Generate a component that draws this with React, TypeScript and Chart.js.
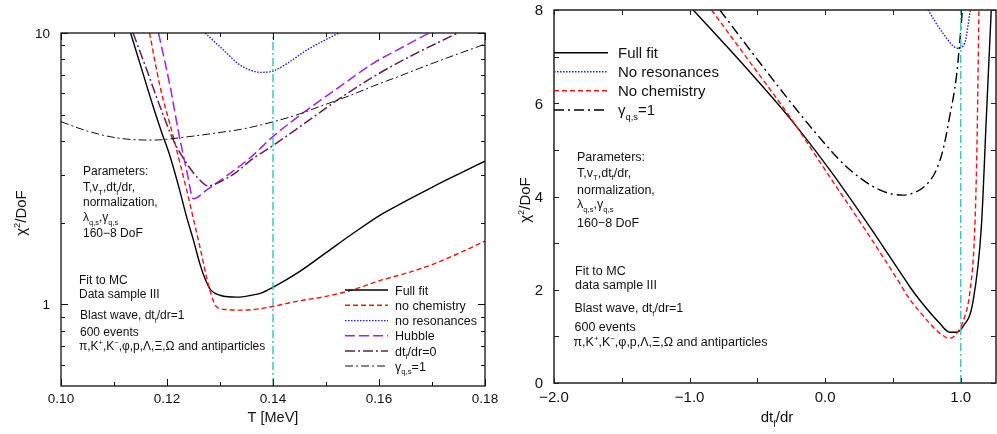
import React, { useEffect, useRef } from "react";
import { Chart, registerables } from "chart.js";
Chart.register(...registerables);

const FONT = '"Liberation Sans", Arial, Helvetica, sans-serif';

// ---------------- Left panel data (T in MeV, chi2/DoF) ----------------
const leftXTicks = [0.1, 0.12, 0.14, 0.16, 0.18];
const leftXMinor = [0.11, 0.13, 0.15, 0.17];
const leftYTicks = [1, 10];
const leftYMinor = [0.6, 0.7, 0.8, 0.9, 2, 3, 4, 5, 6, 7, 8, 9];
const leftMarkT = 0.14;

const fullT = [0.113, 0.115, 0.1174, 0.119, 0.1206, 0.1222, 0.1237, 0.125, 0.1262, 0.1272, 0.1281, 0.129, 0.13, 0.1315, 0.1332, 0.1357, 0.138, 0.14, 0.145, 0.15, 0.155, 0.16, 0.165, 0.17, 0.175, 0.18];
const fullChi = [10.2, 7.6, 5.35, 4.3, 3.5, 2.72, 2.1, 1.72, 1.41, 1.24, 1.14, 1.1, 1.08, 1.066, 1.063, 1.078, 1.105, 1.155, 1.32, 1.55, 1.82, 2.12, 2.4, 2.7, 3.02, 3.37];

const noChemT = [0.1167, 0.1187, 0.1212, 0.1237, 0.1262, 0.1281, 0.1294, 0.1313, 0.134, 0.137, 0.14, 0.145, 0.15, 0.155, 0.16, 0.165, 0.17, 0.175, 0.18];
const noChemChi = [10, 6.34, 4.14, 2.64, 1.63, 1.126, 0.977, 0.956, 0.952, 0.96, 0.983, 1.03, 1.07, 1.13, 1.22, 1.3, 1.4, 1.54, 1.71];

const noResT = [0.1272, 0.13, 0.1338, 0.1357, 0.1376, 0.1401, 0.143, 0.1464, 0.1533];
const noResChi = [10, 8.9, 7.62, 7.3, 7.16, 7.25, 7.8, 8.66, 10.2];

const hubbleT = [0.1184, 0.1206, 0.1221, 0.1237, 0.125, 0.1275, 0.1319, 0.1357, 0.1401, 0.1464, 0.1526, 0.1589, 0.1652, 0.1699];
const hubbleChi = [10, 6.34, 4.39, 3.12, 2.45, 2.64, 3.04, 3.47, 4.17, 5.2, 6.34, 7.73, 9.03, 10.1];

const dtdr0T = [0.1136, 0.1162, 0.1187, 0.1212, 0.1237, 0.1262, 0.1278, 0.13, 0.1332, 0.136, 0.1401, 0.1464, 0.1526, 0.1589, 0.1652, 0.1747];
const dtdr0Chi = [10, 7.3, 5.35, 4.03, 3.31, 2.87, 2.73, 2.83, 3.08, 3.42, 3.86, 4.71, 5.74, 6.89, 8.07, 9.97];

const gammaT = [0.1, 0.105, 0.1111, 0.1174, 0.1237, 0.13, 0.1338, 0.1401, 0.145, 0.1495, 0.1545, 0.1589, 0.164, 0.1684, 0.174, 0.18];
const gammaChi = [4.71, 4.35, 4.09, 4.03, 4.14, 4.3, 4.41, 4.71, 5.03, 5.42, 5.88, 6.37, 6.95, 7.51, 8.25, 9.1];

// ---------------- Right panel data (dt_f/dr, chi2/DoF) ----------------
const rightXTicks = [-2, -1, 0, 1];
const rightXMinor = [-1.5, -0.5, 0.5];
const rightYTicks = [0, 2, 4, 6, 8];
const rightYMinor = [1, 3, 5, 7];
const rightMarkX = 1.0;

const rFullX = [-0.973, -0.58, -0.261, 0.034, 0.329, 0.55, 0.623, 0.697, 0.845, 0.918, 0.968, 1.016, 1.09, 1.152, 1.189, 1.225];
const rFullChi = [8, 6.75, 5.68, 4.57, 3.35, 2.39, 2.07, 1.78, 1.28, 1.09, 1.09, 1.21, 1.74, 3.35, 5.71, 8];

const rNoChemX = [-0.838, -0.58, -0.261, 0.034, 0.329, 0.55, 0.611, 0.697, 0.845, 0.918, 0.979, 1.029, 1.066, 1.102, 1.119, 1.134];
const rNoChemChi = [8, 6.98, 5.71, 4.42, 3.14, 2.14, 1.85, 1.53, 1.07, 0.96, 1.1, 1.42, 1.92, 3.21, 5.0, 8];

const rNoResX = [0.758, 0.869, 0.979, 1.029, 1.071];
const rNoResChi = [8, 7.5, 7.18, 7.29, 8];

const rGammaX = [-0.777, -0.458, -0.089, 0.157, 0.402, 0.574, 0.648, 0.746, 0.82, 0.869, 0.918, 0.968, 0.992, 1.012];
const rGammaChi = [8, 6.78, 5.43, 4.64, 4.14, 4.03, 4.07, 4.25, 4.57, 5.0, 5.71, 6.57, 7.29, 8];

// ---------------- helpers ----------------
type Seg = { t: string; k: "n" | "sub" | "sup" };
function parseRich(s: string): Seg[] {
  const out: Seg[] = [];
  const re = /([_^])\{([^}]*)\}/g;
  let last = 0;
  let m: RegExpExecArray | null;
  while ((m = re.exec(s))) {
    if (m.index > last) out.push({ t: s.slice(last, m.index), k: "n" });
    out.push({ t: m[2], k: m[1] === "_" ? "sub" : "sup" });
    last = m.index + m[0].length;
  }
  if (last < s.length) out.push({ t: s.slice(last), k: "n" });
  return out;
}

function drawRich(ctx: CanvasRenderingContext2D, s: string, x: number, y: number, size: number, align: "left" | "center" | "right" = "left", color = "#111") {
  const segs = parseRich(s);
  const small = size * 0.62;
  let total = 0;
  const widths: number[] = [];
  for (const g of segs) {
    ctx.font = `${g.k === "n" ? size : small}px ${FONT}`;
    const w = ctx.measureText(g.t).width;
    widths.push(w);
    total += w;
  }
  let cx = align === "left" ? x : align === "center" ? x - total / 2 : x - total;
  const base = y + size * 0.36;
  ctx.fillStyle = color;
  ctx.textAlign = "left";
  ctx.textBaseline = "alphabetic";
  segs.forEach((g, i) => {
    ctx.font = `${g.k === "n" ? size : small}px ${FONT}`;
    const dy = g.k === "sub" ? size * 0.28 : g.k === "sup" ? -size * 0.42 : 0;
    ctx.fillText(g.t, cx, base + dy);
    cx += widths[i];
  });
}

function drawRotated(ctx: CanvasRenderingContext2D, s: string, x: number, y: number, size: number) {
  ctx.save();
  ctx.translate(x, y);
  ctx.rotate(-Math.PI / 2);
  drawRich(ctx, s, 0, 0, size, "center");
  ctx.restore();
}

function drawFrame(chart: any, xMaj: number[], xMin: number[], yMaj: number[], yMin: number[], majLen: number, minLen: number, color: string, lw: number) {
  const { ctx, chartArea: a, scales } = chart;
  const xs = scales.x;
  const ys = scales.y;
  ctx.save();
  ctx.strokeStyle = color;
  ctx.lineWidth = lw;
  ctx.setLineDash([]);
  ctx.strokeRect(a.left, a.top, a.right - a.left, a.bottom - a.top);
  ctx.lineWidth = 1;
  const vt = (v: number, len: number) => {
    const p = Math.round(xs.getPixelForValue(v)) + 0.5;
    ctx.beginPath();
    ctx.moveTo(p, a.bottom);
    ctx.lineTo(p, a.bottom - len);
    ctx.moveTo(p, a.top);
    ctx.lineTo(p, a.top + len);
    ctx.stroke();
  };
  const ht = (v: number, len: number) => {
    const p = Math.round(ys.getPixelForValue(v)) + 0.5;
    ctx.beginPath();
    ctx.moveTo(a.left, p);
    ctx.lineTo(a.left + len, p);
    ctx.moveTo(a.right, p);
    ctx.lineTo(a.right - len, p);
    ctx.stroke();
  };
  xMaj.forEach((v) => vt(v, majLen));
  xMin.forEach((v) => vt(v, minLen));
  yMaj.forEach((v) => ht(v, majLen));
  yMin.forEach((v) => ht(v, minLen));
  ctx.restore();
}

type Style = { label: string; color: string; dash: number[]; width: number };

function drawLegend(ctx: CanvasRenderingContext2D, styles: Style[], x0: number, x1: number, tx: number, ys: number[], size: number) {
  styles.forEach((s, i) => {
    ctx.save();
    ctx.strokeStyle = s.color;
    ctx.lineWidth = s.width;
    ctx.setLineDash(s.dash);
    ctx.beginPath();
    ctx.moveTo(x0, ys[i]);
    ctx.lineTo(x1, ys[i]);
    ctx.stroke();
    ctx.restore();
    drawRich(ctx, s.label, tx, ys[i], size, "left");
  });
}

function series(xs: number[], ys: number[], st: Style) {
  return {
    label: st.label,
    data: xs.map((x, i) => ({ x, y: ys[i] })),
    showLine: true,
    borderColor: st.color,
    borderWidth: st.width,
    borderDash: st.dash,
    pointRadius: 0,
    fill: false,
    cubicInterpolationMode: "monotone" as const,
  };
}

function markerLine(x: number, y0: number, y1: number) {
  return {
    label: "marker",
    data: [{ x, y: y0 }, { x, y: y1 }],
    showLine: true,
    borderColor: "#3fc6c6",
    borderWidth: 1.5,
    borderDash: [8, 3, 2, 3],
    pointRadius: 0,
    fill: false,
    tension: 0,
  };
}

// styles
const leftStyles: Style[] = [
  { label: "Full fit", color: "#000000", dash: [], width: 1.4 },
  { label: "no chemistry", color: "#ff1010", dash: [5, 3], width: 1.4 },
  { label: "no resonances", color: "#1a1aff", dash: [1.5, 1.5], width: 1.4 },
  { label: "Hubble", color: "#a020f0", dash: [10, 4], width: 1.5 },
  { label: "dt_{f}/dr=0", color: "#6e1d50", dash: [10, 3, 2, 3], width: 1.5 },
  { label: "γ_{q,s}=1", color: "#111111", dash: [8, 3, 2, 3], width: 1.0 },
];
const rightStyles: Style[] = [
  { label: "Full fit", color: "#000000", dash: [], width: 1.4 },
  { label: "No resonances", color: "#1a1aff", dash: [1.5, 1.5], width: 1.4 },
  { label: "No chemistry", color: "#ff1010", dash: [5, 3], width: 1.4 },
  { label: "γ_{q,s}=1", color: "#000000", dash: [10, 4, 2, 4], width: 1.4 },
];

const paramLines = ["Parameters:", "T,v_{T},dt_{f}/dr,", "normalization,", "λ_{q,s},γ_{q,s}", "160−8 DoF"];
const particleLine = "π,K^{+},K^{−},φ,p,Λ,Ξ,Ω and antiparticles";

const leftDecor = {
  id: "leftDecor",
  afterDraw(chart: any) {
    const ctx: CanvasRenderingContext2D = chart.ctx;
    const a = chart.chartArea;
    const xs = chart.scales.x;
    const ys = chart.scales.y;
    drawFrame(chart, leftXTicks, leftXMinor, leftYTicks, leftYMinor, 7, 4, "#111", 1.3);
    leftXTicks.forEach((v) => drawRich(ctx, v.toFixed(2), xs.getPixelForValue(v), 398, 13.5, "center"));
    leftYTicks.forEach((v) => drawRich(ctx, String(v), a.left - 11, ys.getPixelForValue(v), 13.5, "right"));
    drawRich(ctx, "T [MeV]", (a.left + a.right) / 2, 417, 14.5, "center");
    drawRotated(ctx, "χ^{2}/DoF", 21, 213, 15);
    const py = [171, 187, 202, 217, 233];
    paramLines.forEach((s, i) => drawRich(ctx, s, 83, py[i], 12, "left"));
    drawRich(ctx, "Fit to MC", 79, 280, 12);
    drawRich(ctx, "Data sample III", 79, 293.5, 12);
    drawRich(ctx, "Blast wave, dt_{f}/dr=1", 80, 315, 12);
    drawRich(ctx, "600 events", 80, 331.5, 12);
    drawRich(ctx, particleLine, 79, 346, 12);
    drawLegend(ctx, leftStyles, 345, 388, 395, [290, 305.3, 320.6, 335.8, 351, 366], 12.5);
  },
};

const rightDecor = {
  id: "rightDecor",
  afterDraw(chart: any) {
    const ctx: CanvasRenderingContext2D = chart.ctx;
    const a = chart.chartArea;
    const xs = chart.scales.x;
    const ys = chart.scales.y;
    drawFrame(chart, rightXTicks, rightXMinor, rightYTicks, rightYMinor, 5, 5, "#222", 1.5);
    rightXTicks.forEach((v) => drawRich(ctx, (v < 0 ? "−" : "") + Math.abs(v).toFixed(1), xs.getPixelForValue(v), 397, 15, "center"));
    rightYTicks.forEach((v) => drawRich(ctx, String(v), a.left - 11, ys.getPixelForValue(v), 15, "right"));
    drawRich(ctx, "dt_{f}/dr", 277, 417, 15, "center");
    drawRotated(ctx, "χ^{2}/DoF", 25, 200, 15);
    const py = [156, 172, 189, 203.5, 222.5];
    paramLines.forEach((s, i) => drawRich(ctx, s, 77, py[i], 12.5, "left"));
    drawRich(ctx, "Fit to MC", 75, 270.5, 12.5);
    drawRich(ctx, "data sample III", 75, 284.5, 12.5);
    drawRich(ctx, "Blast wave, dt_{f}/dr=1", 74.5, 307.5, 12.5);
    drawRich(ctx, "600 events", 74.5, 326.5, 12.5);
    drawRich(ctx, particleLine, 73.5, 341.5, 12.5);
    drawLegend(ctx, rightStyles, a.left, 108, 118, [52.7, 71.7, 90.7, 110], 15);
  },
};

function buildLeft(canvas: HTMLCanvasElement) {
  return new Chart(canvas, {
    type: "scatter",
    data: {
      datasets: [
        markerLine(leftMarkT, 0.5, 10),
        series(gammaT, gammaChi, leftStyles[5]),
        series(dtdr0T, dtdr0Chi, leftStyles[4]),
        series(hubbleT, hubbleChi, leftStyles[3]),
        series(noResT, noResChi, leftStyles[2]),
        series(noChemT, noChemChi, leftStyles[1]),
        series(fullT, fullChi, leftStyles[0]),
      ] as any,
    },
    options: {
      responsive: false,
      animation: false,
      devicePixelRatio: 1,
      events: [],
      layout: { padding: { left: 61, right: 15, top: 33, bottom: 48 } },
      plugins: { legend: { display: false }, tooltip: { enabled: false } },
      scales: {
        x: { type: "linear", min: 0.1, max: 0.18, display: false },
        y: { type: "logarithmic", min: 0.5, max: 10, display: false },
      },
    },
    plugins: [leftDecor],
  });
}

function buildRight(canvas: HTMLCanvasElement) {
  return new Chart(canvas, {
    type: "scatter",
    data: {
      datasets: [
        markerLine(rightMarkX, 0, 8),
        series(rGammaX, rGammaChi, rightStyles[3]),
        series(rNoResX, rNoResChi, rightStyles[1]),
        series(rNoChemX, rNoChemChi, rightStyles[2]),
        series(rFullX, rFullChi, rightStyles[0]),
      ] as any,
    },
    options: {
      responsive: false,
      animation: false,
      devicePixelRatio: 1,
      events: [],
      layout: { padding: { left: 54, right: 1, top: 10, bottom: 51 } },
      plugins: { legend: { display: false }, tooltip: { enabled: false } },
      scales: {
        x: { type: "linear", min: -2, max: 1.26, display: false },
        y: { type: "linear", min: 0, max: 8, display: false },
      },
    },
    plugins: [rightDecor],
  });
}

function Panel({ left, width, build }: { left: number; width: number; build: (c: HTMLCanvasElement) => Chart }) {
  const ref = useRef<HTMLCanvasElement>(null);
  useEffect(() => {
    const c = build(ref.current as HTMLCanvasElement);
    return () => c.destroy();
  }, []);
  return <canvas ref={ref} width={width} height={434} style={{ position: "absolute", left, top: 0, width, height: 434 }} />;
}

export default function App() {
  return (
    <div style={{ position: "fixed", left: 0, top: 0, width: 997, height: 434, background: "#fff", overflow: "hidden" }}>
      <Panel left={0} width={500} build={buildLeft} />
      <Panel left={500} width={497} build={buildRight} />
    </div>
  );
}
